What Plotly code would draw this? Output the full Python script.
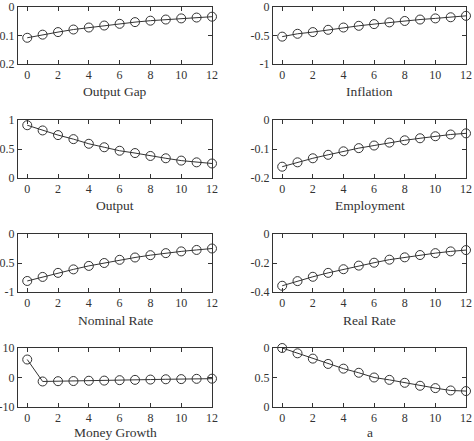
import plotly.graph_objects as go

periods = list(range(13))

output_gap = [-0.108, -0.097, -0.088, -0.079, -0.072, -0.065, -0.059, -0.053, -0.048, -0.044, -0.040, -0.037, -0.034]
inflation = [-0.52, -0.47, -0.44, -0.40, -0.36, -0.33, -0.30, -0.27, -0.245, -0.22, -0.20, -0.18, -0.155]
output = [0.91, 0.82, 0.74, 0.67, 0.59, 0.53, 0.47, 0.43, 0.38, 0.34, 0.30, 0.27, 0.25]
employment = [-0.161, -0.146, -0.132, -0.120, -0.108, -0.097, -0.088, -0.078, -0.070, -0.063, -0.056, -0.050, -0.046]
nominal_rate = [-0.81, -0.74, -0.67, -0.61, -0.55, -0.50, -0.445, -0.405, -0.365, -0.33, -0.30, -0.275, -0.25]
real_rate = [-0.357, -0.325, -0.295, -0.268, -0.243, -0.218, -0.198, -0.177, -0.161, -0.145, -0.132, -0.120, -0.111]
money_growth = [6.1, -1.35, -1.25, -1.2, -1.1, -1.05, -0.9, -0.8, -0.7, -0.6, -0.55, -0.45, -0.4]
a_shock = [1.0, 0.91, 0.82, 0.73, 0.65, 0.58, 0.50, 0.46, 0.41, 0.36, 0.32, 0.28, 0.27]

titles = ["Output Gap", "Inflation", "Output", "Employment",
          "Nominal Rate", "Real Rate", "Money Growth", "a"]
series = [output_gap, inflation, output, employment,
          nominal_rate, real_rate, money_growth, a_shock]
y_ranges = [[-0.2, 0], [-1, 0], [0, 1], [-0.2, 0],
            [-1, 0], [-0.4, 0], [-10, 10], [0, 1]]
y_tickvals = [[-0.2, -0.1, 0], [-1, -0.5, 0], [0, 0.5, 1], [-0.2, -0.1, 0],
              [-1, -0.5, 0], [-0.4, -0.2, 0], [-10, 0, 10], [0, 0.5, 1]]
y_ticktext = [["-0.2", "-0.1", "0"], ["-1", "-0.5", "0"], ["0", "0.5", "1"], ["-0.2", "-0.1", "0"],
              ["-1", "-0.5", "0"], ["-0.4", "-0.2", "0"], ["-10", "0", "10"], ["0", "0.5", "0"]]
x_ticks = [0, 2, 4, 6, 8, 10, 12]

W, H = 474, 441
col_px = [(18, 212), (273, 466)]
row_px = [(7, 64), (120, 178), (234, 292), (348, 407)]
title_px = [92, 206, 320, 432]

FONT = "\"Liberation Serif\", serif"
INK = "#333333"

fig = go.Figure()
layout = dict(
    width=W, height=H,
    margin=dict(l=0, r=0, t=0, b=0),
    paper_bgcolor="white", plot_bgcolor="white",
    showlegend=False,
    font=dict(family=FONT, size=12, color=INK),
)
annotations = []
for i, (name, vals) in enumerate(zip(titles, series)):
    r, c = divmod(i, 2)
    k = i + 1
    xa = "xaxis" if k == 1 else f"xaxis{k}"
    ya = "yaxis" if k == 1 else f"yaxis{k}"
    xr = "x" if k == 1 else f"x{k}"
    yr = "y" if k == 1 else f"y{k}"
    fig.add_trace(go.Scatter(
        x=periods, y=vals, xaxis=xr, yaxis=yr, mode="lines+markers",
        line=dict(color=INK, width=1),
        marker=dict(symbol="circle-open", size=9, color=INK, line=dict(width=1)),
        cliponaxis=False,
    ))
    x0, x1 = col_px[c]
    y0, y1 = row_px[r]
    common = dict(showgrid=False, zeroline=False, showline=True, linecolor=INK,
                  linewidth=1, mirror="ticks", ticks="inside", ticklen=4,
                  tickcolor=INK, tickfont=dict(family=FONT, size=12, color=INK),
                  ticklabeloverflow="allow",
                  automargin=False, fixedrange=True)
    layout[xa] = dict(common, domain=[x0 / W, x1 / W], range=[-0.6, 12],
                      tickvals=x_ticks, anchor=yr)
    layout[ya] = dict(common, domain=[1 - y1 / H, 1 - y0 / H], range=y_ranges[i],
                      tickvals=y_tickvals[i], ticktext=y_ticktext[i], anchor=xr)
    annotations.append(dict(
        text=name, xref="paper", yref="paper",
        x=(x0 + x1) / 2 / W, y=1 - title_px[r] / H,
        xanchor="center", yanchor="middle", showarrow=False,
        font=dict(family=FONT, size=13.5, color=INK),
    ))
layout["annotations"] = annotations
fig.update_layout(**layout)
fig.write_html("out.html")
